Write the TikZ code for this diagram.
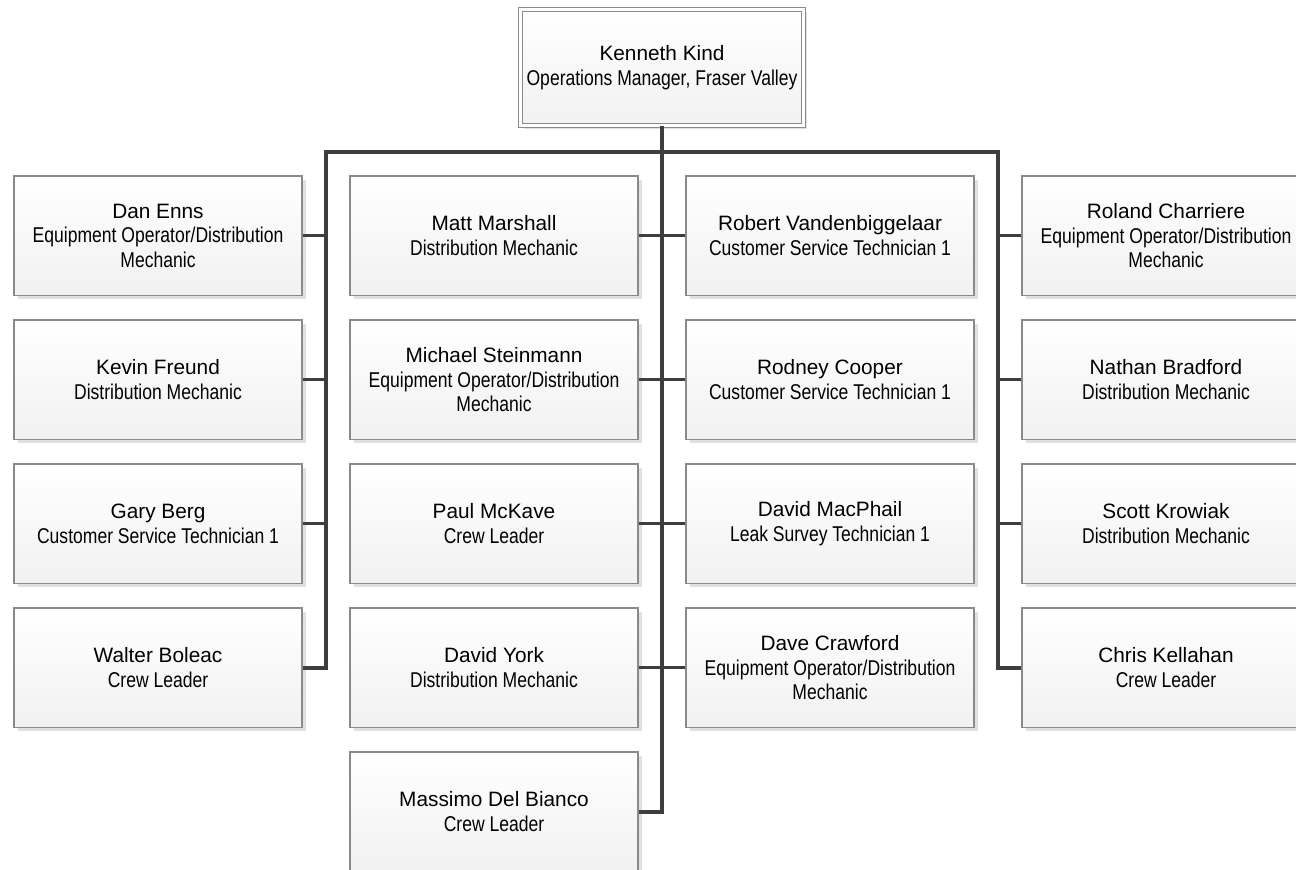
\documentclass[tikz,border=0pt]{standalone}
\usepackage{fontspec}
\setmainfont{Liberation Sans}
\newfontfamily\narrowfont[FakeStretch=0.82]{Liberation Sans}
\usetikzlibrary{shadows}

\definecolor{boxedge}{HTML}{8A8A8A}
\definecolor{boxbottom}{HTML}{F1F1F1}
\definecolor{linkgray}{HTML}{3E3E3E}
\definecolor{shadowgray}{HTML}{E0E0E0}

% job titles are set in a condensed face
\newcommand{\jobtitle}[1]{{\narrowfont\fontsize{21.4}{24.5}\selectfont #1}}

\tikzset{
  card/.style={draw=boxedge, line width=1.5pt,
    minimum width=288pt, minimum height=119.5pt, inner sep=0pt,
    top color=white, bottom color=boxbottom, align=center,
    font=\fontsize{20.8}{24.5}\selectfont,
    drop shadow={shadow xshift=3.5pt, shadow yshift=-3.5pt,
      fill=shadowgray, opacity=1}},
  headcard/.style={card, line width=1pt, double=white, double distance=3pt,
    minimum width=283pt, minimum height=116pt},
  trunk/.style={draw=linkgray, line width=3.5pt},
  branch/.style={draw=linkgray, line width=2.8pt},
}

\begin{document}
\begin{tikzpicture}[x=1pt, y=-1pt]
  \useasboundingbox (0,0) rectangle (1296,870);
  \clip (0,0) rectangle (1296,870);

  % manager
  \node[headcard] (kk) at (662,67.5)
    {Kenneth Kind\\\jobtitle{Operations Manager, Fraser Valley}};

  % first column
  \node[card] (de) at (158,235.75)
    {Dan Enns\\\jobtitle{Equipment Operator/Distribution}\\\jobtitle{Mechanic}};
  \node[card] (kf) at (158,379.75)
    {Kevin Freund\\\jobtitle{Distribution Mechanic}};
  \node[card] (gb) at (158,523.75)
    {Gary Berg\\\jobtitle{Customer Service Technician 1}};
  \node[card] (wb) at (158,667.75)
    {Walter Boleac\\\jobtitle{Crew Leader}};

  % second column
  \node[card] (mm) at (494,235.75)
    {Matt Marshall\\\jobtitle{Distribution Mechanic}};
  \node[card] (ms) at (494,379.75)
    {Michael Steinmann\\\jobtitle{Equipment Operator/Distribution}\\\jobtitle{Mechanic}};
  \node[card] (pm) at (494,523.75)
    {Paul McKave\\\jobtitle{Crew Leader}};
  \node[card] (dy) at (494,667.75)
    {David York\\\jobtitle{Distribution Mechanic}};
  \node[card] (mdb) at (494,811.75)
    {Massimo Del Bianco\\\jobtitle{Crew Leader}};

  % third column
  \node[card] (rv) at (830,235.75)
    {Robert Vandenbiggelaar\\\jobtitle{Customer Service Technician 1}};
  \node[card] (rc) at (830,379.75)
    {Rodney Cooper\\\jobtitle{Customer Service Technician 1}};
  \node[card] (dm) at (830,523.75)
    {David MacPhail\\\jobtitle{Leak Survey Technician 1}};
  \node[card] (dc) at (830,667.75)
    {Dave Crawford\\\jobtitle{Equipment Operator/Distribution}\\\jobtitle{Mechanic}};

  % fourth column
  \node[card] (rch) at (1166,235.75)
    {Roland Charriere\\\jobtitle{Equipment Operator/Distribution}\\\jobtitle{Mechanic}};
  \node[card] (nb) at (1166,379.75)
    {Nathan Bradford\\\jobtitle{Distribution Mechanic}};
  \node[card] (sk) at (1166,523.75)
    {Scott Krowiak\\\jobtitle{Distribution Mechanic}};
  \node[card] (ck) at (1166,667.75)
    {Chris Kellahan\\\jobtitle{Crew Leader}};

  % reporting lines
  \coordinate (busL) at (326,152);
  \coordinate (busR) at (998,152);
  \draw[trunk] (kk.south) |- (mdb.east);
  \draw[trunk] (wb.east) -| (busL) -- (busR) |- (ck.west);

  \draw[branch] (de.east) -- (de.east -| busL);
  \draw[branch] (kf.east) -- (kf.east -| busL);
  \draw[branch] (gb.east) -- (gb.east -| busL);

  \draw[branch] (rch.west) -- (rch.west -| busR);
  \draw[branch] (nb.west) -- (nb.west -| busR);
  \draw[branch] (sk.west) -- (sk.west -| busR);

  \draw[branch] (mm.east) -- (rv.west);
  \draw[branch] (ms.east) -- (rc.west);
  \draw[branch] (pm.east) -- (dm.west);
  \draw[branch] (dy.east) -- (dc.west);
\end{tikzpicture}
\end{document}
